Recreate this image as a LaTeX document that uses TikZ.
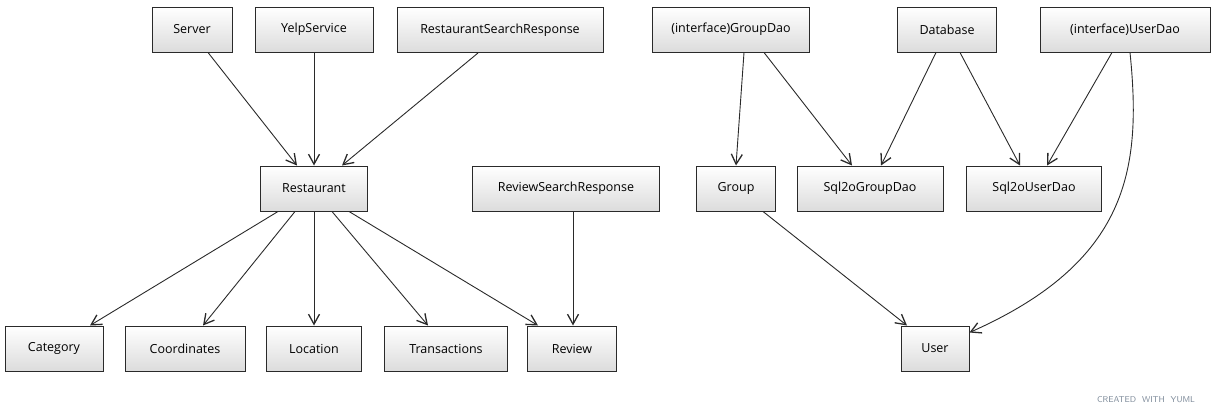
\documentclass[tikz,border=0pt]{standalone}
\usepackage{fontspec}
\setmainfont{Open Sans}
\usepackage{tikz}
\usetikzlibrary{arrows.meta}
\definecolor{boxline}{HTML}{2A2A2A}
\definecolor{boxfill}{HTML}{DCDCDC}
\definecolor{yumlgray}{HTML}{7D8A99}
\tikzset{
	box/.style={draw=boxline, line width=1pt, inner sep=0pt, minimum height=45pt,
		top color=white, bottom color=boxfill,
		font=\fontsize{12.5}{14}\selectfont},
	assoc/.style={-{Straight Barb[length=10pt, width=11pt, line width=1.3pt]}, line width=0.9pt, boxline},
}

\begin{document}
\begin{tikzpicture}[x=1pt, y=-1pt]
			\useasboundingbox (0,0) rectangle (1215,415);
			% top row
			\node[box, minimum width=80pt] (srv) at (192,29.5) {Server};
			\node[box, minimum width=118pt] (yelp) at (314,29.5) {YelpService};
			\node[box, minimum width=206pt] (rsr) at (500,30) {RestaurantSearchResponse};
			\node[box, minimum width=157pt] (gdao) at (731,29.5) {(interface)GroupDao};
			\node[box, minimum width=99pt] (db) at (947,29.5) {Database};
			\node[box, minimum width=170pt] (udao) at (1125,29.5) {(interface)UserDao};
			% middle row
			\node[box, minimum width=107pt] (rest) at (314,188.5) {Restaurant};
			\node[box, minimum width=187pt] (revsr) at (566,188.5) {ReviewSearchResponse};
			\node[box, minimum width=79pt] (grp) at (736,188.5) {Group};
			\node[box, minimum width=146pt] (sqlgd) at (870,188.5) {Sql2oGroupDao};
			\node[box, minimum width=135pt] (sqlud) at (1034,188.5) {Sql2oUserDao};
			% bottom row
			\node[box, minimum width=98pt] (cat) at (54,348.5) {Category};
			\node[box, minimum width=120pt] (coord) at (185,348.5) {Coordinates};
			\node[box, minimum width=95pt] (loc) at (314,348.5) {Location};
			\node[box, minimum width=123pt] (trans) at (446,348.5) {Transactions};
			\node[box, minimum width=89pt] (rev) at (572,348.5) {Review};
			\node[box, minimum width=68pt] (usr) at (935,348.5) {User};

			\draw[assoc] ([xshift=16pt]srv.south) -- ([xshift=-17pt]rest.north);
			\draw[assoc] (yelp.south) -- (rest.north);
			\draw[assoc] ([xshift=-22pt]rsr.south) -- ([xshift=28pt]rest.north);
			\draw[assoc] ([xshift=-36pt]rest.south) -- ([xshift=36pt]cat.north);
			\draw[assoc] ([xshift=-19pt]rest.south) -- ([xshift=18pt]coord.north);
			\draw[assoc] (rest.south) -- (loc.north);
			\draw[assoc] ([xshift=18pt]rest.south) -- ([xshift=-18pt]trans.north);
			\draw[assoc] ([xshift=35pt]rest.south) -- ([xshift=-34pt]rev.north);
			\draw[assoc] ([xshift=7pt]revsr.south) -- ([xshift=1pt]rev.north);
			\draw[assoc] ([xshift=13pt]gdao.south) -- (grp.north);
			\draw[assoc] ([xshift=33pt]gdao.south) -- ([xshift=-18pt]sqlgd.north);
			\draw[assoc] ([xshift=-11pt]db.south) -- ([xshift=11pt]sqlgd.north);
			\draw[assoc] ([xshift=13pt]db.south) -- ([xshift=-14pt]sqlud.north);
			\draw[assoc] ([xshift=-13pt]udao.south) -- ([xshift=13pt]sqlud.north);
			\draw[assoc] ([xshift=5pt]udao.south) .. controls (1142,170) and (1128,262) .. ([yshift=-7pt]usr.north east);
			\draw[assoc] ([xshift=27pt]grp.south) -- ([xshift=-28pt]usr.north);

			\node[text=yumlgray, font=\sffamily\fontsize{8.5}{10}\selectfont] (credit) at (1146,400) {CREATED\ \ WITH\ \ YUML};
		\end{tikzpicture}
\end{document}
